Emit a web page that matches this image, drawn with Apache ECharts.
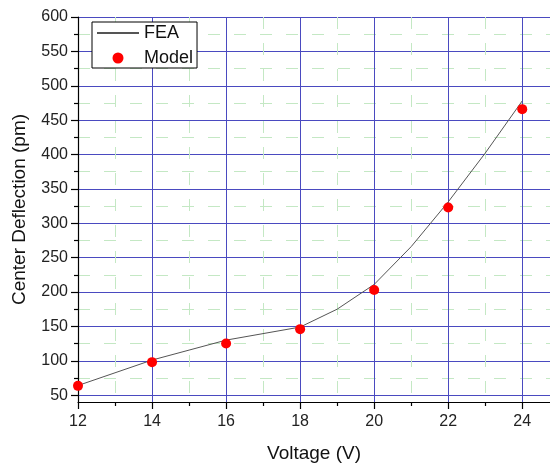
<!DOCTYPE html>
<html>
<head>
<meta charset="utf-8">
<script src="https://cdn.jsdelivr.net/npm/echarts@6/dist/echarts.min.js"></script>
<style>html,body{margin:0;padding:0;background:#fff}#c{width:550px;height:468px}</style>
</head>
<body>
<div id="c"></div>
<script>
// Data
var feaVoltage = [12, 14, 16, 18, 19, 20, 21, 22, 23, 24];
var feaDeflection = [64, 101, 130, 149, 175, 211, 266, 331, 402, 478];
var modelVoltage = [12, 14, 16, 18, 20, 22, 24];
var modelDeflection = [63.5, 98, 125, 146, 203, 323, 466];
var xMajorTicks = [12, 14, 16, 18, 20, 22, 24];
var xMinorTicks = [13, 15, 17, 19, 21, 23];
var yMajorTicks = [50, 100, 150, 200, 250, 300, 350, 400, 450, 500, 550, 600];
var yMinorTicks = [75, 125, 175, 225, 275, 325, 375, 425, 475, 525, 575];

var FONT = '"Liberation Sans", Arial, sans-serif';
var BLUE = '#4a4ac0';
var GREEN = '#c4e8c4';

function pairs(xs, ys) { return xs.map(function (x, i) { return [x, ys[i]]; }); }

var chart = echarts.init(document.getElementById('c'), null, {renderer: 'canvas'});
chart.setOption({
  animation: false,
  backgroundColor: '#ffffff',
  grid: {left: 78, right: 0, top: 17, bottom: 62, containLabel: false},
  legend: {
    orient: 'vertical', left: 92, top: 22,
    padding: [2, 4, 1, 4], itemGap: 7, itemWidth: 42, itemHeight: 11,
    backgroundColor: '#fff', borderColor: '#000', borderWidth: 1,
    textStyle: {fontFamily: FONT, fontSize: 18, color: '#111'},
    data: [{name: 'FEA', itemStyle: {opacity: 0}}, {name: 'Model', icon: 'circle'}]
  },
  xAxis: [{
    type: 'value', min: 12, max: 24.75,
    name: 'Voltage (V)', nameLocation: 'middle', nameGap: 42,
    nameTextStyle: {fontFamily: FONT, fontSize: 19, color: '#111'},
    axisLine: {show: true, onZero: false, lineStyle: {color: '#000', width: 1.2}},
    axisTick: {show: true, inside: false, length: 7, customValues: xMajorTicks, lineStyle: {color: '#000', width: 1.2}},
    axisLabel: {customValues: xMajorTicks, margin: 12, fontFamily: FONT, fontSize: 16, color: '#222'},
    splitLine: {show: true, lineStyle: {color: BLUE, width: 1}}
  }, {
    type: 'value', min: 12, max: 24.75, position: 'bottom',
    axisLine: {show: false, onZero: false},
    axisTick: {show: true, inside: false, length: 4, customValues: xMinorTicks, lineStyle: {color: '#000', width: 1.2}},
    axisLabel: {show: false, customValues: xMinorTicks},
    splitLine: {show: true, lineStyle: {color: GREEN, width: 1, type: [12, 14]}}
  }],
  yAxis: [{
    type: 'value', min: 40, max: 600,
    name: 'Center Deflection (pm)', nameLocation: 'middle', nameGap: 49, nameRotate: 90,
    nameTextStyle: {fontFamily: FONT, fontSize: 19, color: '#111'},
    axisLine: {show: true, onZero: false, lineStyle: {color: '#000', width: 1.2}},
    axisTick: {show: true, inside: false, length: 7, customValues: yMajorTicks, lineStyle: {color: '#000', width: 1.2}},
    axisLabel: {customValues: yMajorTicks, margin: 10, fontFamily: FONT, fontSize: 16, color: '#222'},
    splitLine: {show: true, lineStyle: {color: BLUE, width: 1}}
  }, {
    type: 'value', min: 40, max: 600, position: 'left',
    axisLine: {show: false, onZero: false},
    axisTick: {show: true, inside: false, length: 4, customValues: yMinorTicks, lineStyle: {color: '#000', width: 1.2}},
    axisLabel: {show: false, customValues: yMinorTicks},
    splitLine: {show: true, lineStyle: {color: GREEN, width: 1, type: [12, 14]}}
  }],
  series: [{
    name: 'FEA', type: 'line', xAxisIndex: 0, yAxisIndex: 0,
    data: pairs(feaVoltage, feaDeflection),
    symbol: 'none', showSymbol: false, smooth: false,
    color: '#555555',
    lineStyle: {color: '#555555', width: 1},
    z: 3
  }, {
    name: 'Model', type: 'scatter', xAxisIndex: 0, yAxisIndex: 0,
    data: pairs(modelVoltage, modelDeflection),
    symbol: 'circle', symbolSize: 10,
    itemStyle: {color: '#ff0000', opacity: 1},
    z: 4
  }]
});
</script>
</body>
</html>
